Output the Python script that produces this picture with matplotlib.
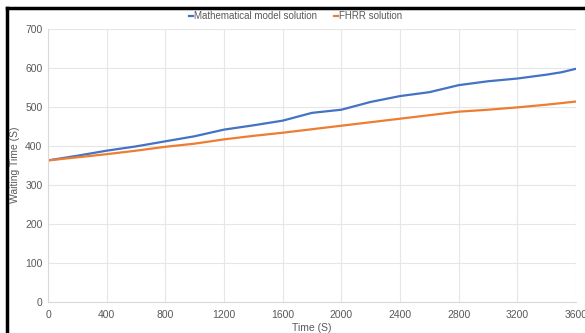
import matplotlib.pyplot as plt
from matplotlib.lines import Line2D

time_s = [0, 200, 400, 600, 800, 1000, 1200, 1400, 1600, 1800, 2000,
          2200, 2400, 2600, 2800, 3000, 3200, 3400, 3500, 3600]
math_model = [363, 375, 388, 399, 412, 425, 442, 453, 465, 485, 493,
              513, 528, 538, 556, 566, 573, 583, 589, 598]
fhrr = [363, 371, 379, 388, 398, 406, 417, 426, 434, 443, 452,
        461, 470, 479, 488, 493, 499, 506, 510, 514]

x_ticks = [0, 400, 800, 1200, 1600, 2000, 2400, 2800, 3200, 3600]
y_ticks = [0, 100, 200, 300, 400, 500, 600, 700]

plt.rcParams['font.family'] = ['Liberation Sans', 'DejaVu Sans']
grey = '#595959'

fig = plt.figure(figsize=(5.85, 3.33), dpi=100)
ax = fig.add_axes([48 / 585, 31 / 333, 528 / 585, 273 / 333])

ax.plot(time_s, math_model, color='#4472C4', lw=1.6, label='Mathematical model solution')
ax.plot(time_s, fhrr, color='#ED7D31', lw=1.6, label='FHRR solution')

ax.set_xlim(0, 3600)
ax.set_ylim(0, 700)
ax.set_xticks(x_ticks)
ax.set_yticks(y_ticks)
ax.grid(True, color='#e6e6e6', lw=0.8)
ax.set_axisbelow(True)
for s in ax.spines.values():
    s.set_visible(False)
ax.spines['bottom'].set_visible(True)
ax.spines['bottom'].set_color('#d9d9d9')
ax.spines['left'].set_visible(True)
ax.spines['left'].set_color('#d9d9d9')
ax.tick_params(length=0, labelsize=7.5, colors=grey)
ax.tick_params(axis='y', pad=4)
ax.tick_params(axis='x', pad=6)

ax.set_xlabel('Time (S)', fontsize=7.5, color=grey, labelpad=2)
fig.text(15 / 585, 1 - 165 / 333, 'Waiting Time (S)', rotation=90,
         fontsize=7.5, color=grey, ha='center', va='center')

fig.legend(loc='center', bbox_to_anchor=(0.505, 0.952), ncol=2, frameon=False,
           fontsize=7, labelcolor=grey, handlelength=0.4, handletextpad=0.1,
           columnspacing=1.8)

# black frame lines at top and left like the screenshot
fig.add_artist(Line2D([7 / 585, 7 / 585], [0, 1 - 8 / 333], transform=fig.transFigure,
                      color='black', lw=2.5))
fig.add_artist(Line2D([7 / 585, 1], [1 - 8 / 333, 1 - 8 / 333], transform=fig.transFigure,
                      color='black', lw=2.5))

fig.savefig('out.png', dpi=100)
